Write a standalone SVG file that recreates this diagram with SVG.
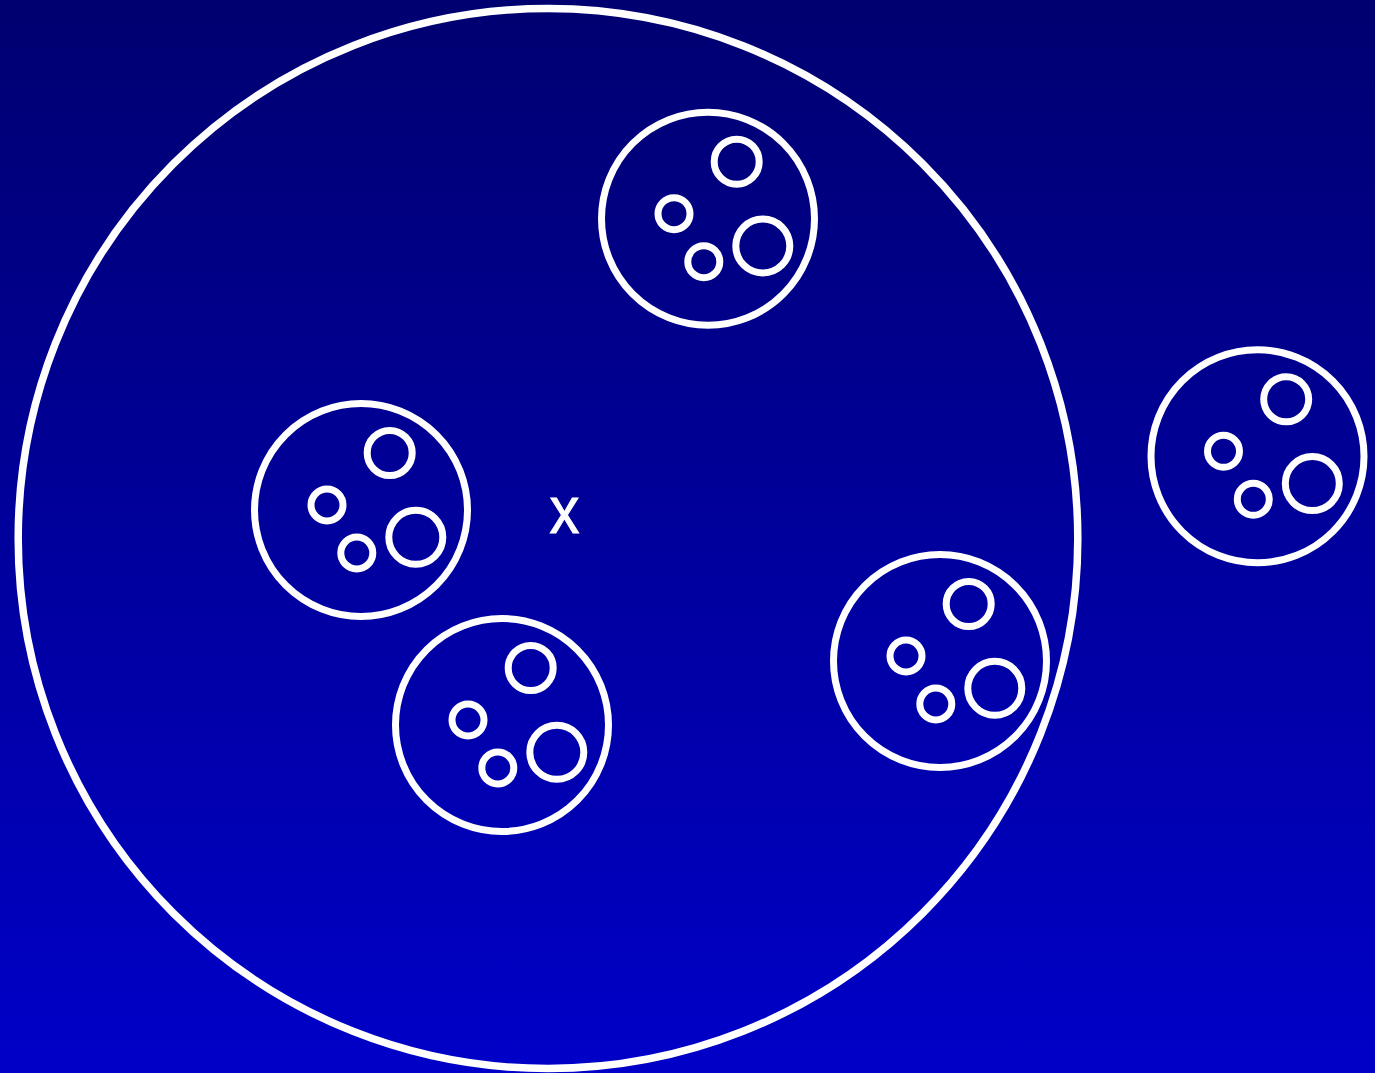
<svg xmlns="http://www.w3.org/2000/svg" width="1375" height="1073" viewBox="0 0 1375 1073">
<style>
.c{fill:none;stroke:#fff;stroke-width:7}
.t{fill:#fff;stroke:#fff;stroke-width:0.8;font-family:"Liberation Sans",Arial,sans-serif;font-size:60px;text-anchor:middle}
</style>
<defs>
<linearGradient id="bg" x1="0" y1="0" x2="0" y2="1">
<stop offset="0" stop-color="#000070"/>
<stop offset="1" stop-color="#0000c8"/>
</linearGradient>
<g id="cell">
<circle class="c" cx="0" cy="0" r="106.5"/>
<circle class="c" cx="28.7" cy="-57" r="22.5"/>
<circle class="c" cx="-34" cy="-5" r="16"/>
<circle class="c" cx="54.8" cy="27.3" r="27"/>
<circle class="c" cx="-4.2" cy="43" r="16"/>
</g>
</defs>
<rect width="1375" height="1073" fill="url(#bg)"/>
<g id="outer"><ellipse class="c" cx="548" cy="538.5" rx="529.8" ry="530" style="stroke-width:7.5"/></g>
<g id="label"><text class="t" transform="translate(564.5 533) scale(1 1.12)" x="0" y="0">x</text></g>
<g id="cell1"><use href="#cell" x="708" y="218.7"/></g>
<g id="cell2"><use href="#cell" x="361" y="510"/></g>
<g id="cell3"><use href="#cell" x="502" y="725"/></g>
<g id="cell4"><use href="#cell" x="940" y="661"/></g>
<g id="cell5"><use href="#cell" x="1257.5" y="456.3"/></g>
<g id="connectors"/>
</svg>
